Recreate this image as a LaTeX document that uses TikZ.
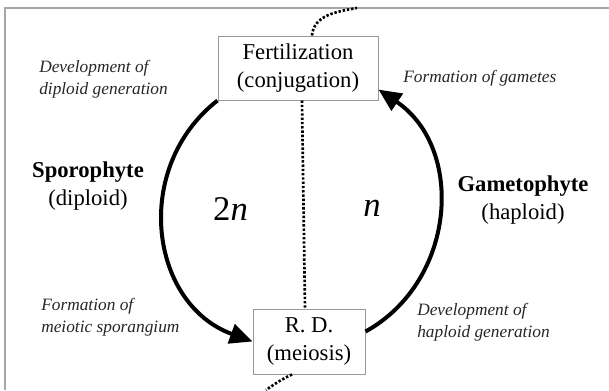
\documentclass[tikz,border=0pt]{standalone}
\usepackage{fontspec}
\setmainfont{LiberationSerif}[
  Extension=.ttf,
  UprightFont=*-Regular,
  ItalicFont=*-Italic,
  BoldFont=*-Bold,
  BoldItalicFont=*-BoldItalic]
\usetikzlibrary{arrows.meta}

\begin{document}
\begin{tikzpicture}[
x=0.75pt, y=-0.75pt,
stagebox/.style={
  draw=gray!80,
  line width=0.75pt,
  align=center,
  inner sep=0pt,
  font=\fontsize{17}{21}\selectfont
  },
note/.style={
  align=left,
  anchor=west,
  inner sep=0pt,
  text=black!85,
  font=\fontsize{13}{16.5}\selectfont\itshape
  },
phase/.style={
  align=center,
  inner sep=0pt,
  font=\fontsize{17}{21}\selectfont
  },
ploidy/.style={
  anchor=base,
  inner sep=0pt,
  font=\fontsize{26}{30}\selectfont
  },
cyclearc/.style={
  line width=3pt,
  -{Triangle[length=17pt,width=15pt]}
  },
dotpath/.style={
  line width=2pt,
  dash pattern=on 1.8pt off 1.4pt
  }
]
\useasboundingbox (0,0) rectangle (609,390);
\draw[gray!70,line width=1.2pt] (5,390) |- (609,8);
% the two stages
\node[stagebox,minimum width=120pt,minimum height=48pt] (fert) at (298,68) {Fertilization\\(conjugation)};
\node[stagebox,minimum width=84pt,minimum height=48.75pt] (rd) at (309,341.5) {R. D.\\(meiosis)};
\coordinate (topend) at (357,8);
\coordinate (botend) at (266,390);
% side notes
\node[note] (dipdev) at (39,79) {Development of\\diploid generation};
\node[note] (gamform) at (403,78) {Formation of gametes};
\node[note] (meioform) at (41,317) {Formation of\\meiotic sporangium};
\node[note] (hapdev) at (417,322.5) {Development of\\haploid generation};
\node[phase] (sporo) at (88,186) {\textbf{Sporophyte}\\(diploid)};
\node[phase] (gameto) at (523,200.5) {\textbf{Gametophyte}\\(haploid)};
\node[ploidy] (twon) at (230.5,220) {2\textit{n}};
\node[ploidy] (onen) at (372,216) {\textit{n}};
% cycle
\draw[cyclearc] (fert.south west) to[out=218,in=160,looseness=1.15] (rd.west);
\draw[cyclearc] (rd.10) to[out=29,in=-34,looseness=1.1] (fert.-15);
\draw[dotpath] ([xshift=3pt]fert.south) -- ([xshift=-3pt]rd.north);
\draw[dotpath] ([xshift=10.5pt]fert.north) to[out=85,in=190] (topend);
\draw[dotpath] ([xshift=-12.75pt]rd.south) to[out=205,in=35] (botend);
\end{tikzpicture}
\end{document}
